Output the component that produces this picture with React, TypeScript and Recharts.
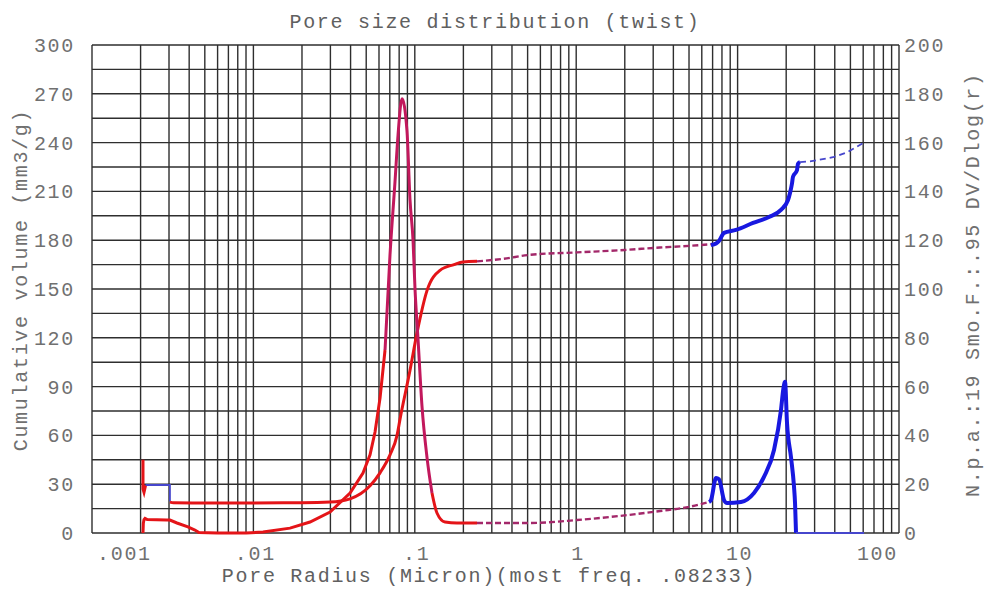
import React from 'react';
import { ComposedChart, Line, XAxis, YAxis, CartesianGrid } from 'recharts';

// ---------- axis ticks ----------
const xTicks = [
  0.001, 0.002, 0.003, 0.004, 0.005, 0.006, 0.007, 0.008, 0.009,
  0.01, 0.02, 0.03, 0.04, 0.05, 0.06, 0.07, 0.08, 0.09,
  0.1, 0.2, 0.3, 0.4, 0.5, 0.6, 0.7, 0.8, 0.9,
  1, 2, 3, 4, 5, 6, 7, 8, 9,
  10, 20, 30, 40, 50, 60, 70, 80, 90, 100,
];
const xDecadeLabels: Record<string, string> = {
  '0.001': '.001', '0.01': '.01', '0.1': '.1', '1': '1', '10': '10', '100': '100',
};
const leftTicks = [0, 15, 30, 45, 60, 75, 90, 105, 120, 135, 150, 165, 180, 195, 210, 225, 240, 255, 270, 285, 300];
const rightTicks = [0, 20, 40, 60, 80, 100, 120, 140, 160, 180, 200];

// ---------- cumulative volume (left axis, mm3/g) ----------
const cumSpikeR = [0.00207, 0.00207, 0.0021, 0.00215];
const cumSpikeV = [45, 27, 25, 29.5];

const cumStepR = [0.00215, 0.00304, 0.00304];
const cumStepV = [29.5, 29.5, 19.5];

const cumRedR = [0.00304, 0.0032, 0.005, 0.01, 0.02, 0.0299, 0.0397, 0.0528, 0.0609, 0.0702, 0.0776, 0.081, 0.0934, 0.1032, 0.119, 0.1433, 0.175, 0.199, 0.2429];
const cumRedV = [19, 18.6, 18.5, 18.5, 18.6, 19, 21, 29, 37, 48, 60, 70, 100, 123, 149, 161.5, 165, 166.6, 167];

const cumDashR = [0.2429, 0.35, 0.517, 1.012, 2.0, 3.3, 5.0, 6.84];
const cumDashV = [167, 168.5, 171, 172.5, 174, 175.5, 176.5, 177.5];

const cumBlueR = [6.84, 7.35, 7.67, 8.24, 9.77, 12.46, 15.65, 18.57, 20.53, 21.12, 21.74, 22.04, 23.33, 23.67, 24.36];
const cumBlueV = [177, 178, 179.5, 184.5, 186.3, 190.6, 194.3, 198.6, 204.7, 209, 215, 219, 223, 227, 228];

const cumTailR = [24.36, 28.09, 39.0, 47.6, 60.7];
const cumTailV = [228, 228.5, 231, 234, 240];

// ---------- DV/Dlog(r) (right axis) ----------
const distLeftR = [0.00207, 0.00208, 0.0021, 0.00213, 0.0022, 0.0029, 0.00304, 0.00336, 0.00393, 0.00434, 0.0046, 0.006, 0.009, 0.01147, 0.01686, 0.02243, 0.02985, 0.0397, 0.04775, 0.0528, 0.0567, 0.0609, 0.0654];
const distLeftV = [0, 4, 5.5, 6, 5.5, 5.3, 5.3, 4.1, 2.5, 1.2, 0.2, 0, 0, 0.4, 2.0, 4.5, 8.6, 16.4, 24.6, 32, 41.4, 55.3, 75];

const distPeakR = [0.0654, 0.0702, 0.0754, 0.0787, 0.0833, 0.0894, 0.0934, 0.0975, 0.1003, 0.1046, 0.1108, 0.119, 0.1278];
const distPeakV = [75, 114, 144, 163, 178, 165, 136.5, 120, 100, 80, 52, 31, 16.4];

const distLowR = [0.1278, 0.1372, 0.1539, 0.1826, 0.2429];
const distLowV = [16.4, 8.2, 4.5, 4.1, 4.1];

const distDashR = [0.2429, 0.517, 1.012, 1.868, 3.306, 5.0, 6.65];
const distDashV = [4.1, 4.1, 5.3, 7, 9, 10.7, 12.7];

const distBlueR = [6.65, 6.84, 7.35, 7.67, 8.24, 8.6, 10.5, 12.64, 14.57, 16.81, 18.57, 19.2, 19.67, 20.24, 21.43, 22.36, 22.7, 23.01];
const distBlueV = [12.7, 13.5, 22.5, 22, 13.5, 12.3, 12.7, 16.4, 23, 34, 50.4, 59, 62, 45, 31, 19, 12, 0];

const distZeroR = [23.01, 60.7];
const distZeroV = [0, 0];

const zip = (rs: number[], vs: number[]) => rs.map((r, i) => ({ r, v: vs[i] }));

const FONT = "'Liberation Mono', 'DejaVu Sans Mono', monospace";
const TXT = '#707070';
const textStyle: React.CSSProperties = { fontFamily: FONT, fontSize: 20, letterSpacing: 1.7 };

const RED = '#e41418';
const CRIMSON = '#c2185c';
const PURPLE = '#a3286a';
const BLUE = '#1818e0';
const BLUE_THIN = '#4646cc';

function XTick(props: any) {
  const { x, y, payload, index } = props;
  const label = xDecadeLabels[String(payload.value)];
  if (!label) return null;
  let anchor: 'start' | 'middle' | 'end' = 'middle';
  let dx = 2;
  if (index === 0) { anchor = 'start'; dx = 5; }
  if (index === xTicks.length - 1) { anchor = 'end'; dx = -1; }
  return (
    <text x={x + dx} y={y + 18} dy="0.35em" textAnchor={anchor} fill={TXT} style={textStyle}>
      {label}
    </text>
  );
}

function LeftTick(props: any) {
  const { x, y, payload } = props;
  if (payload.value % 30 !== 0) return null;
  return (
    <text x={x} y={y} dy="0.35em" textAnchor="end" fill={TXT} style={textStyle}>
      {payload.value}
    </text>
  );
}

function RightTick(props: any) {
  const { x, y, payload } = props;
  return (
    <text x={x} y={y} dy="0.35em" textAnchor="start" fill={TXT} style={textStyle}>
      {payload.value}
    </text>
  );
}

export default function App() {
  const common = { dataKey: 'v', dot: false, activeDot: false, isAnimationActive: false, xAxisId: 'x' } as const;
  return (
    <div style={{ position: 'absolute', left: 0, top: 0, width: 986, height: 590, background: '#fff' }}>
      <ComposedChart width={986} height={590} margin={{ top: 45, right: 27, bottom: 27, left: 32 }}>
        <CartesianGrid xAxisId="x" yAxisId="left" stroke="#2e2e2e" strokeWidth={1.4} />
        <XAxis
          xAxisId="x"
          type="number"
          dataKey="r"
          scale="log"
          domain={[0.001, 100]}
          allowDataOverflow
          ticks={xTicks}
          interval={0}
          tickLine={false}
          axisLine={false}
          tickSize={0}
          height={30}
          tick={<XTick />}
        />
        <YAxis
          yAxisId="left"
          orientation="left"
          type="number"
          domain={[0, 300]}
          ticks={leftTicks}
          interval={0}
          width={60}
          tickSize={0}
          tickMargin={17}
          tickLine={false}
          axisLine={false}
          tick={<LeftTick />}
        />
        <YAxis
          yAxisId="right"
          orientation="right"
          type="number"
          domain={[0, 200]}
          ticks={rightTicks}
          interval={0}
          width={60}
          tickSize={0}
          tickMargin={5}
          tickLine={false}
          axisLine={false}
          tick={<RightTick />}
        />

        {/* cumulative volume */}
        <Line {...common} yAxisId="left" data={zip(cumSpikeR, cumSpikeV)} type="linear" stroke={RED} strokeWidth={3} />
        <Line {...common} yAxisId="left" data={zip(cumStepR, cumStepV)} type="linear" stroke={BLUE_THIN} strokeWidth={1.8} />
        <Line {...common} yAxisId="left" data={zip(cumRedR, cumRedV)} type="monotone" stroke={RED} strokeWidth={3} />
        <Line {...common} yAxisId="left" data={zip(cumDashR, cumDashV)} type="monotone" stroke={PURPLE} strokeWidth={2.4} strokeDasharray="6 3" />
        <Line {...common} yAxisId="left" data={zip(cumBlueR, cumBlueV)} type="monotone" stroke={BLUE} strokeWidth={4} />
        <Line {...common} yAxisId="left" data={zip(cumTailR, cumTailV)} type="linear" stroke={BLUE_THIN} strokeWidth={1.8} strokeDasharray="6 4" />

        {/* DV/Dlog(r) */}
        <Line {...common} yAxisId="right" data={zip(distLeftR, distLeftV)} type="linear" stroke={RED} strokeWidth={3} />
        <Line {...common} yAxisId="right" data={zip(distPeakR, distPeakV)} type="monotone" stroke={CRIMSON} strokeWidth={3} />
        <Line {...common} yAxisId="right" data={zip(distLowR, distLowV)} type="monotone" stroke={RED} strokeWidth={3} />
        <Line {...common} yAxisId="right" data={zip(distDashR, distDashV)} type="monotone" stroke={PURPLE} strokeWidth={2.4} strokeDasharray="6 3" />
        <Line {...common} yAxisId="right" data={zip(distBlueR, distBlueV)} type="monotone" stroke={BLUE} strokeWidth={4} />
        <Line {...common} yAxisId="right" data={zip(distZeroR, distZeroV)} type="linear" stroke={BLUE_THIN} strokeWidth={1.8} />
      </ComposedChart>

      <svg width={986} height={590} style={{ position: 'absolute', left: 0, top: 0, pointerEvents: 'none' }}>
        <text x={495} y={21} dy="0.35em" textAnchor="middle" fill="#606060" style={textStyle}>
          Pore size distribution (twist)
        </text>
        <text x={489} y={575} dy="0.35em" textAnchor="middle" fill="#606060" style={textStyle}>
          Pore Radius (Micron)(most freq. .08233)
        </text>
        <text x={20} y={280} dy="0.35em" textAnchor="middle" fill={TXT} style={textStyle} transform="rotate(-90 20 280)">
          Cumulative volume (mm3/g)
        </text>
        <text x={972} y={497} dy="0.35em" textAnchor="start" fill={TXT} style={textStyle} transform="rotate(-90 972 497)">
          {'N.p.a.:19 Smo.F.:.95  DV/Dlog(r)'}
        </text>
      </svg>
    </div>
  );
}
